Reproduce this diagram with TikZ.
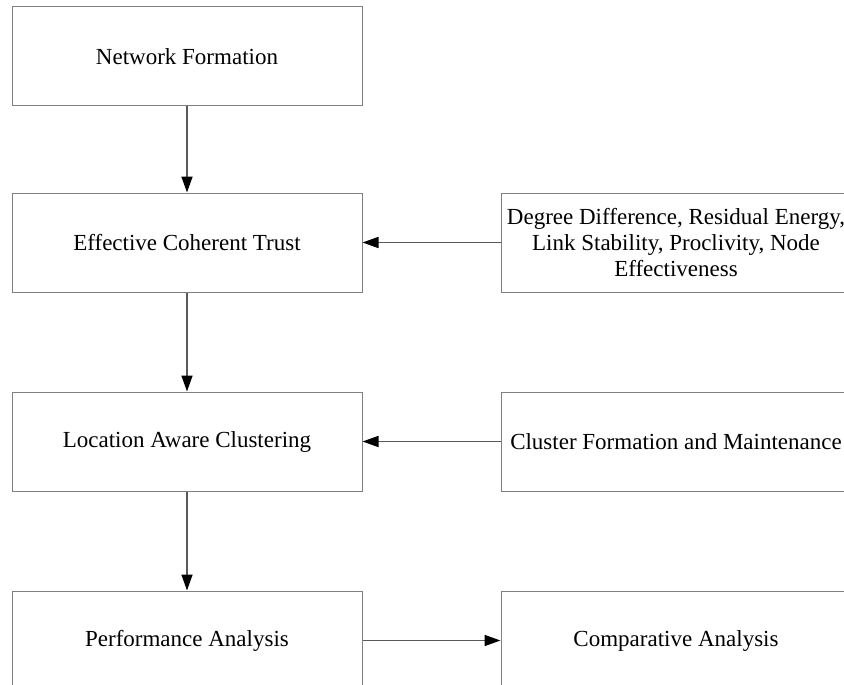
\documentclass[tikz,border=0pt]{standalone}
\usepackage{fontspec}
\setmainfont{Liberation Serif}
\usetikzlibrary{arrows.meta}

\def\boxW{350pt}
\def\boxH{99pt}

\tikzset{
    stage/.style = {draw = black!50, line width = 1pt, minimum width = \boxW,
        minimum height = \boxH, inner sep = 0pt, align = center,
        font = \fontsize{23}{26}\selectfont},
    flow/.style = {draw = black!65, line width = 1.6pt,
        -{Triangle[length = 16pt, width = 11pt, color = black]}}
}

\begin{document}
\begin{tikzpicture}[x = 1pt, y = -1pt]
            \useasboundingbox (0,0) rectangle (844,685);
            % main column
            \node [stage] (formation) at (187,56.5) {Network Formation};
            \node [stage] (trust) at (187,242.5) {Effective Coherent Trust};
            \node [stage] (clustering) at (187,441.5) {Location Aware Clustering};
            \node [stage] (performance) at (187,640.5) {Performance Analysis};
            % side column
            \node [stage] (metrics) at (676,242.5)
                {Degree Difference, Residual Energy,\\
                 Link Stability, Proclivity, Node\\
                 Effectiveness};
            \node [stage] (maintenance) at (676,441.5) {Cluster Formation and Maintenance};
            \node [stage] (comparative) at (676,640.5) {Comparative Analysis};
            % connectors
            \draw [flow] (formation) -- (trust);
            \draw [flow] (trust) -- (clustering);
            \draw [flow] (clustering) -- (performance);
            \draw [flow] (metrics) -- (trust);
            \draw [flow] (maintenance) -- (clustering);
            \draw [flow] (performance) -- (comparative);
        \end{tikzpicture}
\end{document}
